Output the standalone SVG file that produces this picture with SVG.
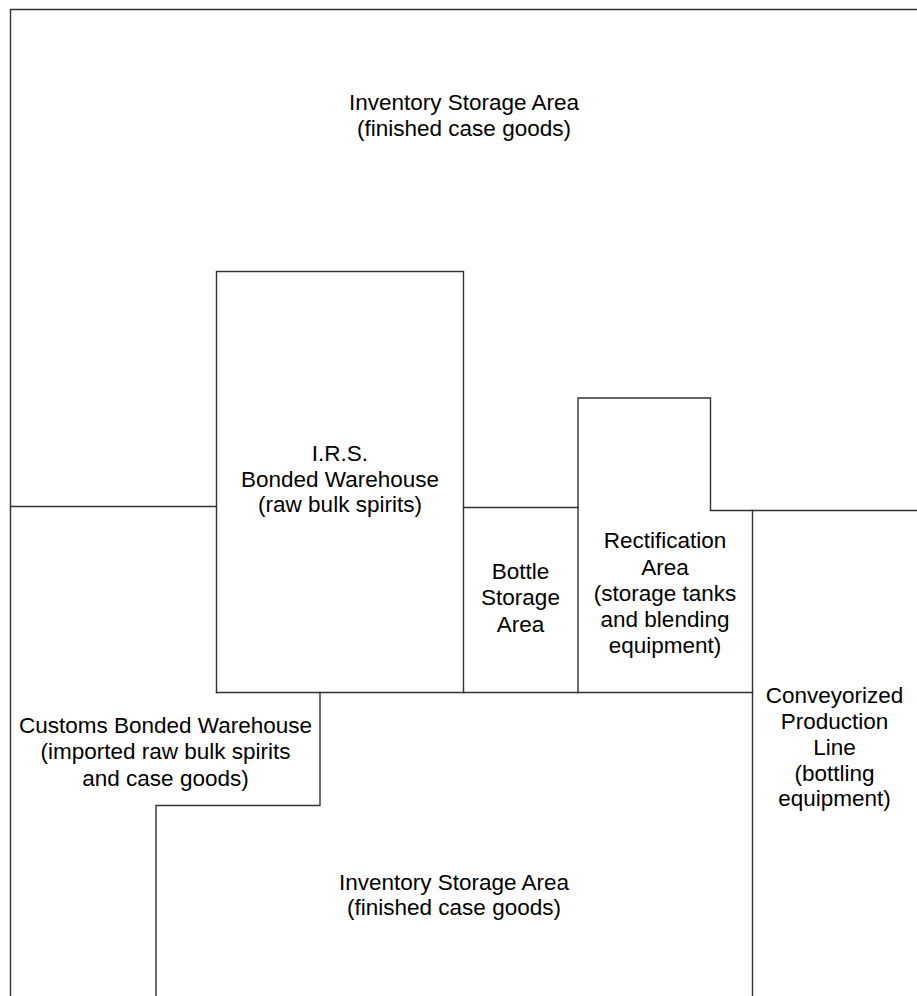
<svg xmlns="http://www.w3.org/2000/svg" width="917" height="996" viewBox="0 0 917 996">
<style>
.wall{fill:none;stroke:#333;stroke-width:1.4;stroke-linecap:square}
text{font-family:"Liberation Sans",Arial,sans-serif;font-size:22.5px;fill:#000;text-anchor:middle}
</style>
<rect width="917" height="996" fill="#fff"/>
<g id="walls">
<path class="wall" d="M10.5,996 V9.5 H917"/>
<path class="wall" d="M10.5,506.5 H216.5"/>
<path class="wall" d="M216.5,692.5 V271.5 H463.5 V692.5"/>
<path class="wall" d="M463.5,507.5 H578"/>
<path class="wall" d="M578,692.5 V398 H710.5 V510.5 H917"/>
<path class="wall" d="M752.5,510.5 V996"/>
<path class="wall" d="M216.5,692.5 H752.5"/>
<path class="wall" d="M320,692.5 V805.5 H156 V996"/>
</g>
<g id="inventory-top">
<text x="464" y="110">Inventory Storage Area</text>
<text x="464" y="136">(finished case goods)</text>
</g>
<g id="irs-bonded-warehouse">
<text x="340" y="461">I.R.S.</text>
<text x="340" y="487">Bonded Warehouse</text>
<text x="340" y="512">(raw bulk spirits)</text>
</g>
<g id="bottle-storage">
<text x="520.5" y="579">Bottle</text>
<text x="520.5" y="605">Storage</text>
<text x="520.5" y="632">Area</text>
</g>
<g id="rectification-area">
<text x="665" y="548">Rectification</text>
<text x="665" y="575">Area</text>
<text x="665" y="601">(storage tanks</text>
<text x="665" y="627">and blending</text>
<text x="665" y="653">equipment)</text>
</g>
<g id="customs-bonded-warehouse">
<text x="165.5" y="733">Customs Bonded Warehouse</text>
<text x="165.5" y="759">(imported raw bulk spirits</text>
<text x="165.5" y="786">and case goods)</text>
</g>
<g id="production-line">
<text x="834.5" y="703">Conveyorized</text>
<text x="834.5" y="729">Production</text>
<text x="834.5" y="755">Line</text>
<text x="834.5" y="781">(bottling</text>
<text x="834.5" y="806">equipment)</text>
</g>
<g id="inventory-bottom">
<text x="454" y="890">Inventory Storage Area</text>
<text x="454" y="915">(finished case goods)</text>
</g>
</svg>
